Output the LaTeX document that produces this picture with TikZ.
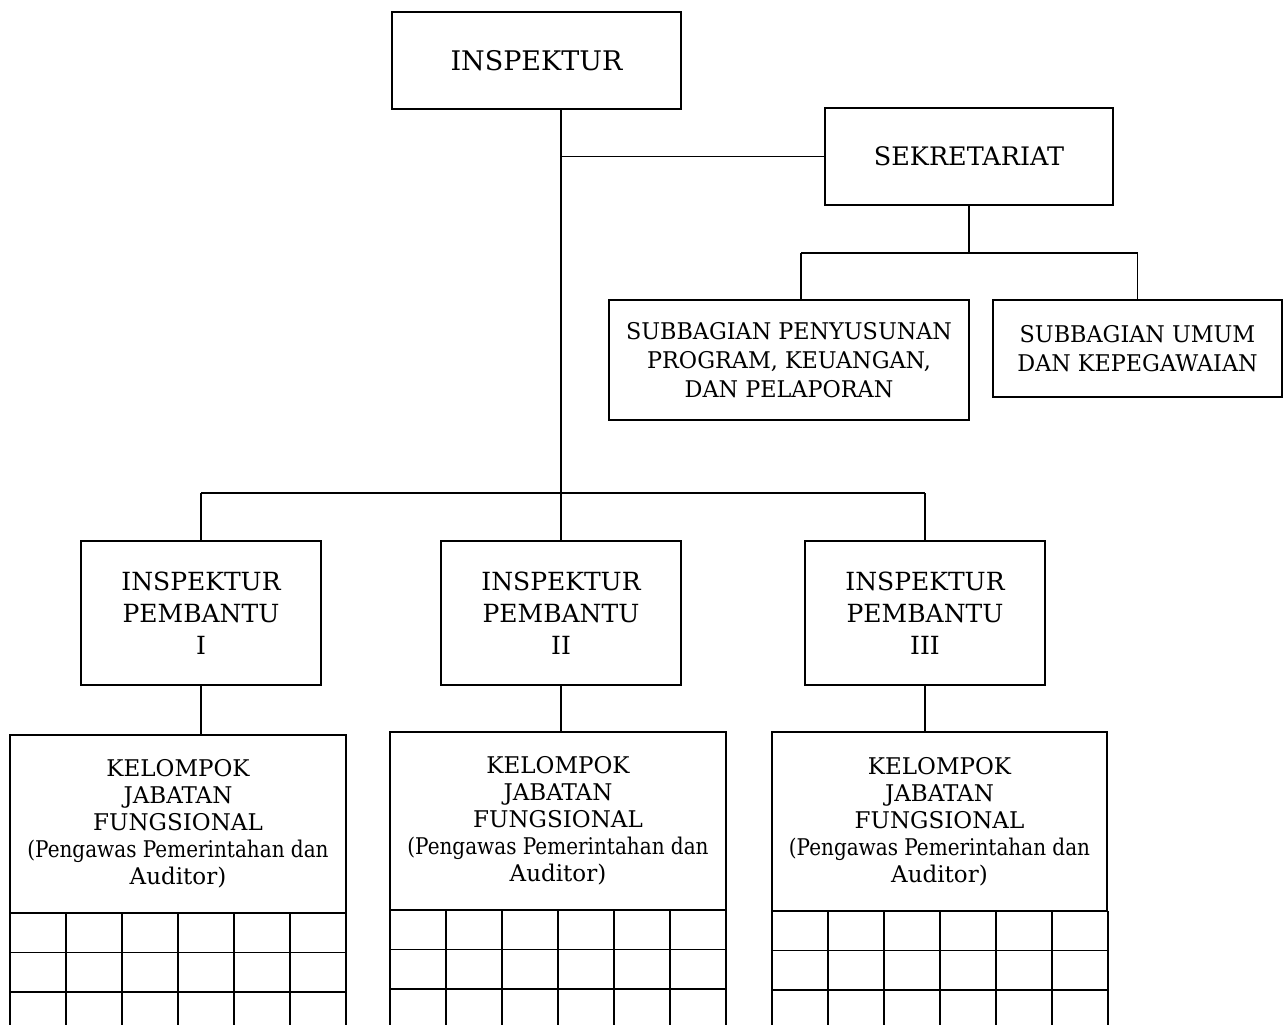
\documentclass[tikz,border=0pt]{standalone}
\usepackage{fontspec}
\setmainfont{DejaVu Serif}
\begin{document}
\begin{tikzpicture}[x=1pt,y=-1pt,line width=1.8pt,
  box/.style={draw,line width=1.8pt,inner sep=0pt,align=center},
  top/.style={font=\fontsize{27}{32}\selectfont},
  big/.style={font=\fontsize{25}{32}\selectfont},
  mid/.style={font=\fontsize{23}{27}\selectfont},
  sub/.style={font=\fontsize{23}{29}\selectfont}]
\useasboundingbox (0,0) rectangle (1288,1025);
\newcommand{\cnd}[1]{\scalebox{0.97}[1]{#1}}
\newcommand{\pgw}{\scalebox{0.87}[1]{(Pengawas Pemerintahan dan}}
% nodes
\node[box,top,minimum width=289,minimum height=97] (insp) at (536.5,60.5) {INSPEKTUR};
\node[box,font=\fontsize{25.5}{30}\selectfont,minimum width=288,minimum height=97] (sek) at (969,156.5) {SEKRETARIAT};
\node[box,sub,minimum width=360,minimum height=120] (ppk) at (789,360)
  {\cnd{SUBBAGIAN PENYUSUNAN}\\\cnd{PROGRAM, KEUANGAN,}\\\cnd{DAN PELAPORAN}};
\node[box,sub,minimum width=289,minimum height=97] (umum) at (1137.5,348.5)
  {\cnd{SUBBAGIAN UMUM}\\\cnd{DAN KEPEGAWAIAN}};
\node[box,big,minimum width=240,minimum height=144] (ip1) at (201,613) {INSPEKTUR\\PEMBANTU\\I};
\node[box,big,minimum width=240,minimum height=144] (ip2) at (561,613) {INSPEKTUR\\PEMBANTU\\II};
\node[box,big,minimum width=240,minimum height=144] (ip3) at (925,613) {INSPEKTUR\\PEMBANTU\\III};
\node[box,mid,minimum width=336,minimum height=178] (kjf1) at (178,824)
  {KELOMPOK\\JABATAN\\FUNGSIONAL\\\pgw\\Auditor)};
\node[box,mid,minimum width=336,minimum height=178] (kjf2) at (558,821)
  {KELOMPOK\\JABATAN\\FUNGSIONAL\\\pgw\\Auditor)};
\node[box,mid,minimum width=335,minimum height=179] (kjf3) at (939.5,821.5)
  {KELOMPOK\\JABATAN\\FUNGSIONAL\\\pgw\\Auditor)};
% helper coordinates
\coordinate (mainx) at (561,0);
\coordinate (bus) at (561,493);
\coordinate (sbus) at (969,253);
\coordinate (ppkx) at (801,0);
% connectors
\draw (insp.south -| mainx) -- (bus);
\draw (sek.west) -- (sek.west -| mainx);
\draw (sek.south) -- (sbus);
\draw (ppkx |- sbus) -- (umum.north |- sbus) -- (umum.north);
\draw (ppkx |- sbus) -- (ppkx |- ppk.north);
\draw (ip1.north |- bus) -- (ip3.north |- bus);
\draw (ip1.north |- bus) -- (ip1.north);
\draw (bus) -- (ip2.north);
\draw (ip3.north |- bus) -- (ip3.north);
\draw (ip1.south) -- (ip1.south |- kjf1.north);
\draw (ip2.south) -- (ip2.south |- kjf2.north);
\draw (ip3.south) -- (ip3.south |- kjf3.north);
% grids
\foreach \L/\T in {10/913,390/910,772/911}{
  \foreach \k in {0,...,6}{\draw ({\L+\k*56},\T) -- ({\L+\k*56},1025);}
  \foreach \r in {1,2}{\draw (\L,{\T+\r*39.5}) -- ({\L+336},{\T+\r*39.5});}
}
\end{tikzpicture}
\end{document}
